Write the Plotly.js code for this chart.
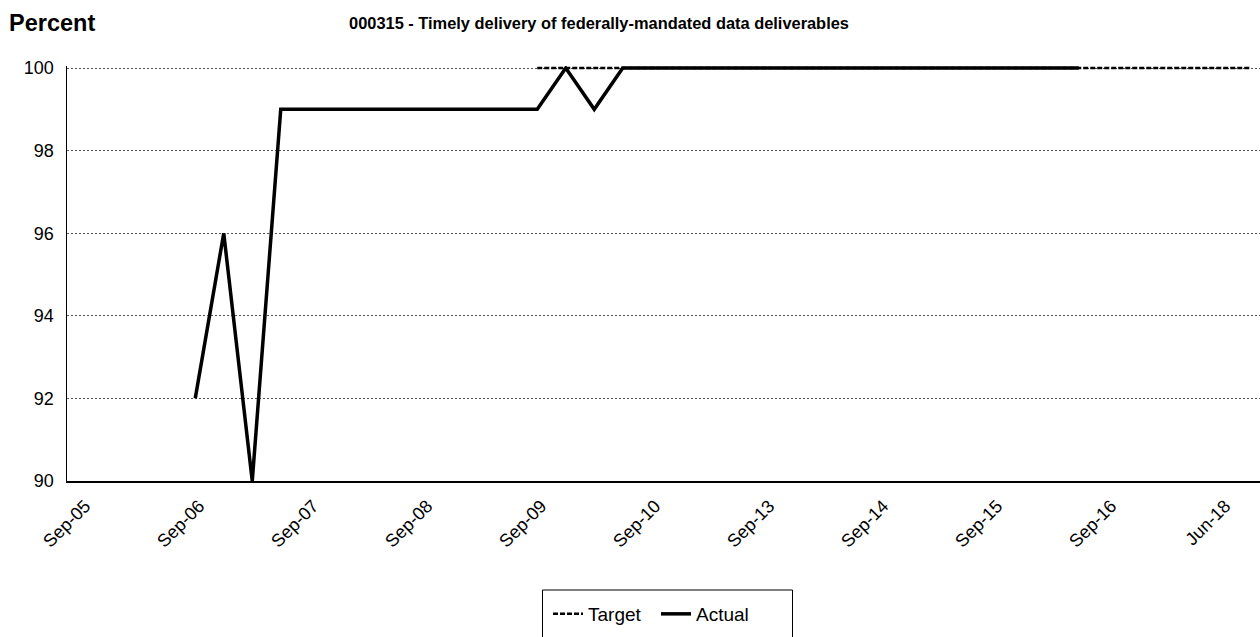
<!DOCTYPE html>
<html>
<head>
<meta charset="utf-8">
<script src="https://cdn.plot.ly/plotly-3.0.1.min.js"></script>
<style>html,body{margin:0;padding:0;background:#fff;}#chart{width:1260px;height:637px;}</style>
</head>
<body>
<div id="chart"></div>
<script>
// Categories (quarterly periods; only every 4th is labelled on the axis)
var categories = [
  "Sep-05","Dec-05","Mar-06","Jun-06",
  "Sep-06","Dec-06","Mar-07","Jun-07",
  "Sep-07","Dec-07","Mar-08","Jun-08",
  "Sep-08","Dec-08","Mar-09","Jun-09",
  "Sep-09","Dec-09","Mar-10","Jun-10",
  "Sep-10","Dec-12","Mar-13","Jun-13",
  "Sep-13","Dec-13","Mar-14","Jun-14",
  "Sep-14","Dec-14","Mar-15","Jun-15",
  "Sep-15","Dec-15","Mar-16","Jun-16",
  "Sep-16","Sep-17","Dec-17","Mar-18",
  "Jun-18","Sep-18"
];
var tickLabels = ["Sep-05","Sep-06","Sep-07","Sep-08","Sep-09","Sep-10","Sep-13","Sep-14","Sep-15","Sep-16","Jun-18"];

var actualValues = [
  null,null,null,null,
  92,96,90,99,
  99,99,99,99,
  99,99,99,99,
  99,100,99,100,
  100,100,100,100,
  100,100,100,100,
  100,100,100,100,
  100,100,100,100,
  null,null,null,null,
  null,null
];
var targetValues = [
  null,null,null,null,
  null,null,null,null,
  null,null,null,null,
  null,null,null,null,
  100,100,100,100,
  100,100,100,100,
  100,100,100,100,
  100,100,100,100,
  100,100,100,100,
  100,100,100,100,
  100,100
];

var font = "Liberation Sans, Arial, sans-serif";
var L = 67, R = 0, T = 66, B = 156, W = 1260, H = 637;
var pw = W - L - R, ph = H - T - B;
var step = 28.5;
function px(xp){ return (xp - L) / pw; }
function py(yp){ return (H - B - yp) / ph; }

var traces = [
  {x: categories, y: targetValues, name: "Target", type: "scatter", mode: "lines",
   line: {color: "#000", width: 2.5, dash: "5px,2px"}, connectgaps: false},
  {x: categories, y: actualValues, name: "Actual", type: "scatter", mode: "lines",
   line: {color: "#000", width: 3.5}, connectgaps: false}
];

var layout = {
  width: W, height: H,
  margin: {l: L, r: R, t: T, b: B, pad: 0},
  paper_bgcolor: "#fff", plot_bgcolor: "#fff",
  font: {family: font, size: 18, color: "#000"},
  title: {text: "<b>000315 - Timely delivery of federally-mandated data deliverables</b>",
          font: {family: font, size: 16.4, color: "#000"},
          x: 599 / W, xanchor: "center", y: 1 - 23 / H, yanchor: "middle"},
  xaxis: {type: "category", range: [-0.5, -0.5 + pw / step],
          tickmode: "array", tickvals: tickLabels, ticktext: tickLabels,
          tickangle: -45, showgrid: false, zeroline: false,
          showline: true, linecolor: "#000", linewidth: 1.5, ticks: "",
          ticklabelshift: 4, ticklabelstandoff: 6,
          tickfont: {family: font, size: 18, color: "#000"}, fixedrange: true},
  yaxis: {range: [90, 100.05], tickmode: "array", tickvals: [90, 92, 94, 96, 98, 100],
          showgrid: true,
          gridcolor: "#555", gridwidth: 1, griddash: "2px,2px", zeroline: false,
          showline: true, linecolor: "#000", linewidth: 1.5, ticks: "",
          ticklabelstandoff: 8,
          tickfont: {family: font, size: 18, color: "#000"}, fixedrange: true},
  showlegend: true,
  legend: {orientation: "h", x: px(548), xanchor: "left", y: py(614), yanchor: "middle",
           bgcolor: "rgba(0,0,0,0)", borderwidth: 0, entrywidth: 63, entrywidthmode: "pixels",
           font: {family: font, size: 19, color: "#000"}, itemwidth: 30},
  shapes: [
    {type: "rect", xref: "paper", yref: "paper", x0: px(542.5), x1: px(792.5),
     y0: py(590), y1: py(645), line: {color: "#000", width: 1}, fillcolor: "rgba(0,0,0,0)", layer: "below"}
  ],
  annotations: [
    {text: "<b>Percent</b>", xref: "paper", yref: "paper", x: px(7), y: py(23),
     xanchor: "left", yanchor: "middle", showarrow: false,
     font: {family: font, size: 23.5, color: "#000"}}
  ]
};

Plotly.newPlot("chart", traces, layout, {displayModeBar: false, staticPlot: true});
</script>
</body>
</html>
